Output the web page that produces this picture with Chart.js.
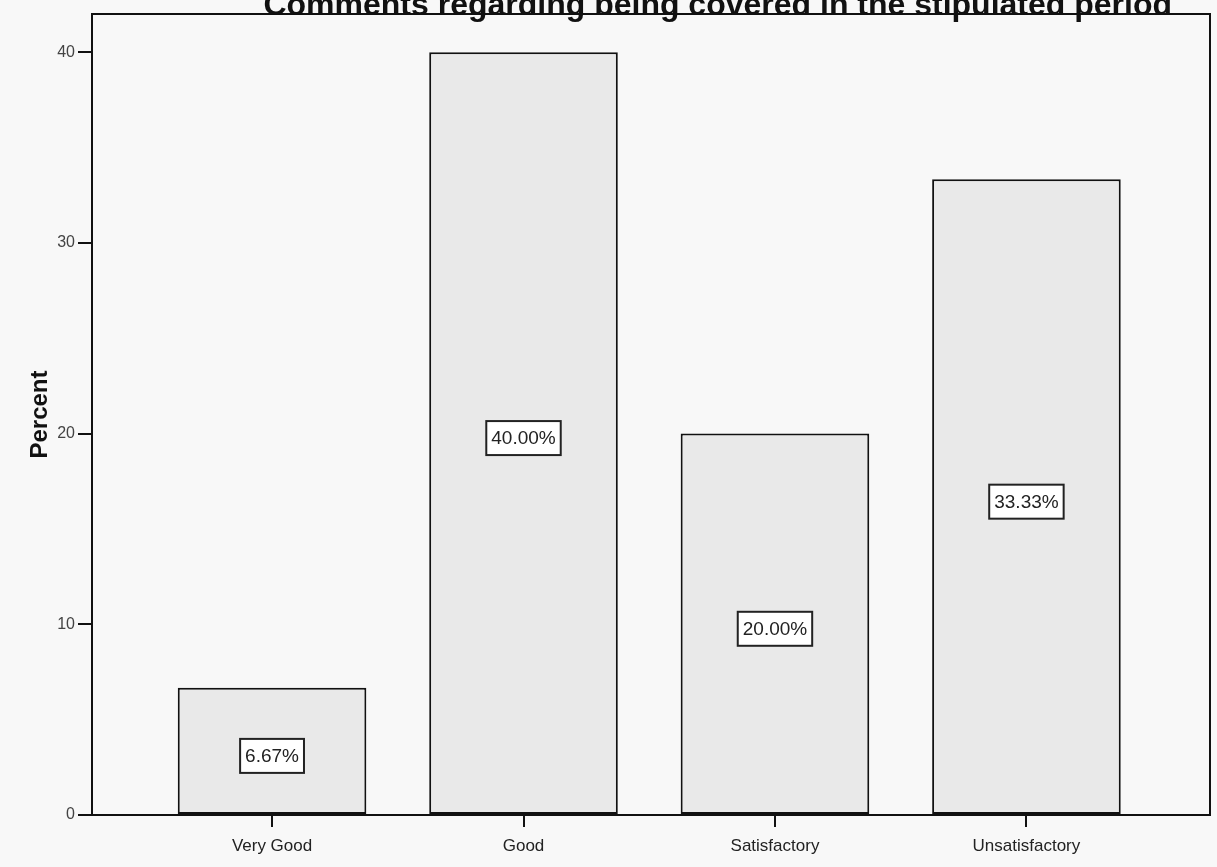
<!DOCTYPE html>
<html>
<head>
<meta charset="utf-8">
<script src="https://cdn.jsdelivr.net/npm/chart.js@4"></script>
<style>
html,body{margin:0;padding:0;background:#f8f8f8;}
#wrap{width:1217px;height:867px;position:relative;}
</style>
</head>
<body>
<div id="wrap"><canvas id="c" width="1217" height="867"></canvas></div>
<script>
const titleText = "Comments regarding being covered in the stipulated period";
const categories = ["Very Good", "Good", "Satisfactory", "Unsatisfactory"];
const percentValues = [6.67, 40.00, 20.00, 33.33];
const valueLabels = ["6.67%", "40.00%", "20.00%", "33.33%"];
const yTicks = [0, 10, 20, 30, 40];
const yAxisTitle = "Percent";

const FONT = "'Liberation Sans', Arial, sans-serif";

const framePlugin = {
  id: 'frame',
  beforeDraw(chart) {
    const ctx = chart.ctx;
    ctx.save();
    ctx.fillStyle = '#f8f8f8';
    ctx.fillRect(0, 0, chart.width, chart.height);
    ctx.restore();
  },
  afterDatasetsDraw(chart) {
    const ctx = chart.ctx;
    const a = chart.chartArea;
    ctx.save();
    ctx.strokeStyle = '#111';
    ctx.lineWidth = 2;
    ctx.beginPath();
    ctx.moveTo(a.left, a.top);
    ctx.lineTo(a.right, a.top);
    ctx.lineTo(a.right, a.bottom);
    ctx.stroke();
    // value labels
    const meta = chart.getDatasetMeta(0);
    ctx.font = '19px ' + FONT;
    ctx.textAlign = 'center';
    ctx.textBaseline = 'middle';
    meta.data.forEach((el, i) => {
      const txt = valueLabels[i];
      const w = ctx.measureText(txt).width + 10;
      const h = 34;
      const cx = el.x;
      const cy = (el.y + el.base) / 2 + 5;
      ctx.fillStyle = '#ffffff';
      ctx.fillRect(cx - w / 2, cy - h / 2, w, h);
      ctx.lineWidth = 2;
      ctx.strokeStyle = '#222';
      ctx.strokeRect(cx - w / 2, cy - h / 2, w, h);
      ctx.fillStyle = '#222';
      ctx.fillText(txt, cx, cy + 1);
    });
    // title (top partly cut off as in reference)
    ctx.font = 'bold 32px ' + FONT;
    ctx.textAlign = 'right';
    ctx.textBaseline = 'alphabetic';
    ctx.fillStyle = '#111';
    ctx.fillText(titleText, 1172, 15);
    ctx.restore();
  }
};

new Chart(document.getElementById('c'), {
  type: 'bar',
  data: {
    datasets: [{
      data: percentValues.map((v, i) => ({ x: i + 1, y: v })),
      backgroundColor: '#e9e9e9',
      borderColor: '#111',
      borderWidth: 2,
      borderSkipped: false,
      barPercentage: 0.75,
      categoryPercentage: 1.0
    }]
  },
  options: {
    responsive: false,
    animation: false,
    layout: { padding: { top: 14, right: 7, left: 26, bottom: 0 } },
    plugins: { legend: { display: false }, tooltip: { enabled: false }, title: { display: false } },
    scales: {
      x: {
        type: 'linear',
        offset: false,
        min: 0.284,
        max: 4.73,
        afterBuildTicks(axis) { axis.ticks = categories.map((c, i) => ({ value: i + 1 })); },
        afterFit(axis) { axis.height = 52; },
        grid: { offset: false, drawOnChartArea: false, drawTicks: true, tickLength: 12, color: '#111', lineWidth: 2 },
        border: { display: true, color: '#111', width: 2 },
        ticks: {
          autoSkip: false,
          maxRotation: 0,
          padding: 9,
          color: '#222',
          font: { family: FONT, size: 17 },
          callback: (v) => categories[Math.round(v) - 1] || ''
        }
      },
      y: {
        min: 0,
        max: 42,
        afterBuildTicks(axis) { axis.ticks = yTicks.map(v => ({ value: v })); },
        afterFit(axis) { axis.width = 66; },
        grid: { drawOnChartArea: false, drawTicks: true, tickLength: 14, color: '#111', lineWidth: 2 },
        border: { display: true, color: '#111', width: 2 },
        ticks: {
          padding: 3,
          color: '#444',
          font: { family: FONT, size: 16 }
        },
        title: {
          display: true,
          text: yAxisTitle,
          color: '#111',
          font: { family: FONT, size: 24, weight: 'bold' },
          padding: { top: 0, bottom: 6 }
        }
      }
    }
  },
  plugins: [framePlugin]
});
</script>
</body>
</html>
